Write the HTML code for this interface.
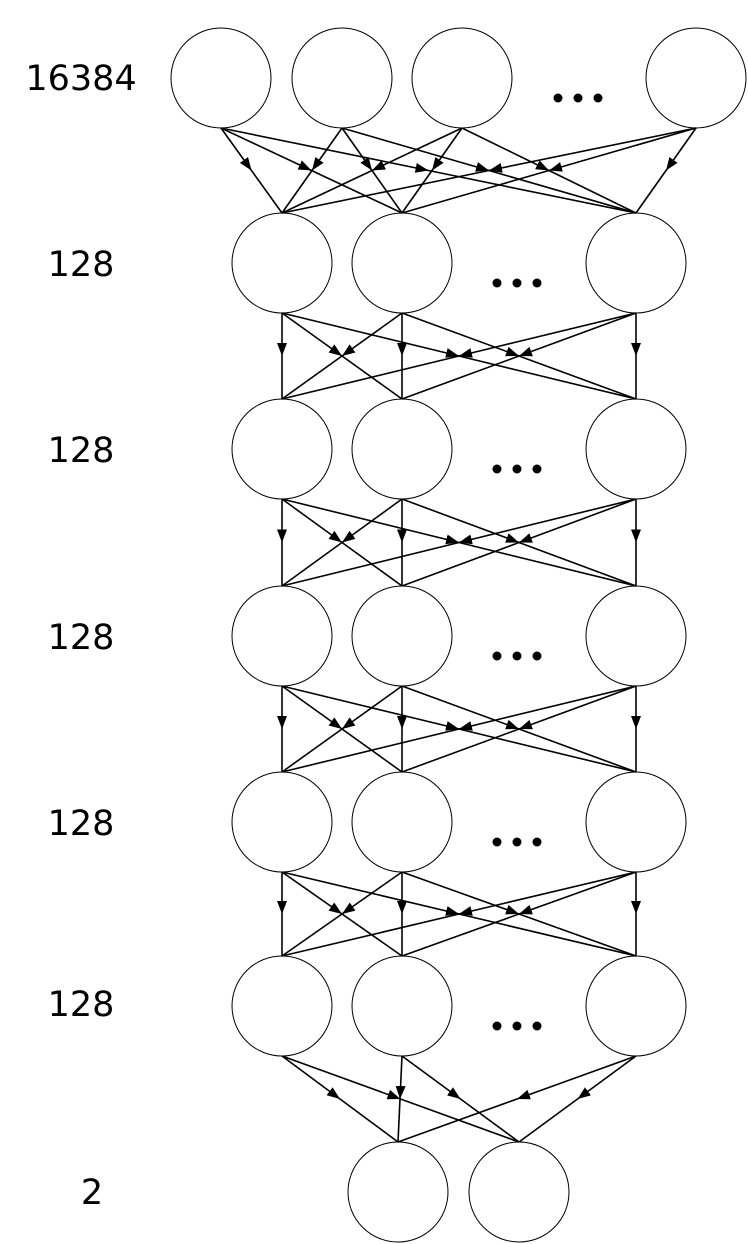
<!DOCTYPE html>
<html><head><meta charset="utf-8"><style>
html,body{margin:0;padding:0;background:#fff;}
svg{display:block;}
text{font-family:"DejaVu Sans","Liberation Sans",sans-serif;font-size:35px;fill:#000;}
</style></head><body>
<svg id="s" width="748" height="1244" viewBox="0 0 748 1244" xmlns="http://www.w3.org/2000/svg">
<defs><marker id="a" markerUnits="userSpaceOnUse" markerWidth="14" markerHeight="11" refX="13" refY="5" orient="auto"><path d="M0,0 L13,5 L0,10 z" fill="#000"/></marker></defs>
<text x="81" y="90" text-anchor="middle">16384</text>
<text x="81" y="276" text-anchor="middle">128</text>
<text x="81" y="462" text-anchor="middle">128</text>
<text x="81" y="649" text-anchor="middle">128</text>
<text x="81" y="835" text-anchor="middle">128</text>
<text x="81" y="1016" text-anchor="middle">128</text>
<text x="92" y="1204" text-anchor="middle">2</text>
<g id="g"></g>
</svg>
<script>
var g=document.getElementById('g'),ns='http://www.w3.org/2000/svg';
function el(t,a){var e=document.createElementNS(ns,t);for(var k in a)e.setAttribute(k,a[k]);g.appendChild(e);}
var layers=[{xs:[221,342,462,696],y:78,dots:[558,578,598]},
{xs:[282,402,636],y:263,dots:[497,517,537]},
{xs:[282,402,636],y:449,dots:[497,517,537]},
{xs:[282,402,636],y:636,dots:[497,517,537]},
{xs:[282,402,636],y:822,dots:[497,517,537]},
{xs:[282,402,636],y:1006,dots:[497,517,537]},
{xs:[398,519],y:1192,dots:[]}];
var r=50;
for(var i=0;i<layers.length-1;i++){var A=layers[i],B=layers[i+1];
A.xs.forEach(function(x1){B.xs.forEach(function(x2){
var y1=A.y+r,y2=B.y-r,mx=(x1+x2)/2,my=(y1+y2)/2;
el('polyline',{points:x1+','+y1+' '+mx+','+my+' '+x2+','+y2,fill:'none',stroke:'#000','stroke-width':'1.6','marker-mid':'url(#a)'});});});}
layers.forEach(function(L){L.xs.forEach(function(x){el('circle',{cx:x,cy:L.y,r:r,fill:'none',stroke:'#000','stroke-width':'1'});});
L.dots.forEach(function(x){el('circle',{cx:x,cy:L.y+20,r:4.5,fill:'#000'});});});
</script>
</body></html>
